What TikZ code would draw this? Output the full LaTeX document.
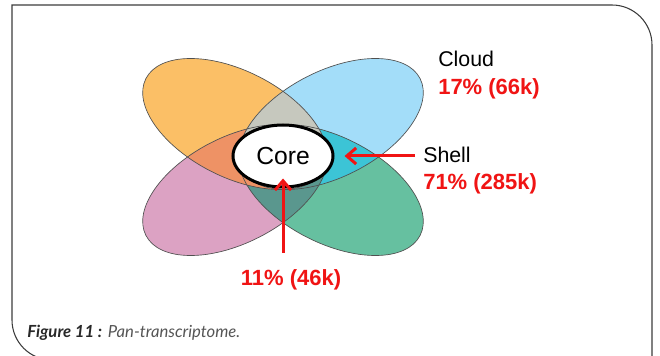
\documentclass[tikz,border=0pt]{standalone}
\usepackage{fontspec}
\setmainfont{Liberation Sans}
\newfontfamily\captionfont{Lato}
\usetikzlibrary{shapes.geometric, arrows.meta}

\definecolor{petalorange}{RGB}{251,191,102}
\definecolor{petalblue}{RGB}{163,221,249}
\definecolor{petalpink}{RGB}{220,162,195}
\definecolor{petalgreen}{RGB}{102,192,160}
\definecolor{lapgray}{RGB}{198,200,190}
\definecolor{lapsalmon}{RGB}{238,146,101}
\definecolor{lapcyan}{RGB}{60,196,214}
\definecolor{lapteal}{RGB}{90,151,142}
\definecolor{pctred}{RGB}{240,20,20}
\definecolor{capdark}{RGB}{40,40,40}
\definecolor{capgray}{RGB}{85,85,85}

% petals of the diagram
\newcommand{\orangepetal}{(235,124) ellipse [x radius=100, y radius=53, rotate=27]}
\newcommand{\bluepetal}{(331,124) ellipse [x radius=100, y radius=53, rotate=-27]}
\newcommand{\pinkpetal}{(235,190) ellipse [x radius=100, y radius=53, rotate=-27]}
\newcommand{\greenpetal}{(331,190) ellipse [x radius=100, y radius=53, rotate=27]}

\tikzset{
  petaledge/.style={draw={rgb,255:red,80;green,80;blue,80}, line width=0.5pt},
  lbltext/.style={inner sep=0pt, font=\fontsize{16}{18}\selectfont},
  pcttext/.style={inner sep=0pt, text=pctred, font=\fontsize{16.5}{18}\selectfont\bfseries},
  coreshape/.style={ellipse, draw=black, fill=white, line width=2.25pt, inner sep=0pt,
    minimum width=75pt, minimum height=46.5pt, font=\fontsize{18.5}{20}\selectfont},
  redarrow/.style={draw=pctred, line width=2.25pt, -{Straight Barb[length=7pt,width=12pt]}},
  framestroke/.style={draw={rgb,255:red,60;green,60;blue,60}, line width=0.8pt}
}

\begin{document}
\begin{tikzpicture}[x=0.75pt,y=0.75pt,yscale=-1,xscale=1]
    \useasboundingbox (0,0) rectangle (660,356);

    %Shape: Frame
    \draw[framestroke] (652,360) -- (652,45) arc[start angle=0, end angle=-90, radius=40] -- (12,5) -- (12,320) arc[start angle=180, end angle=90, radius=40] -- (60,360);

    %Shape: Petals
    \fill[petalorange] \orangepetal;
    \fill[petalblue] \bluepetal;
    \fill[petalpink] \pinkpetal;
    \fill[petalgreen] \greenpetal;
    % overlaps
    \begin{scope}
      \clip \greenpetal;
      \fill[lapcyan] \bluepetal;
      \fill[lapteal] \pinkpetal;
    \end{scope}
    \begin{scope}
      \clip \orangepetal;
      \fill[lapsalmon] \pinkpetal;
      \fill[lapgray] \bluepetal;
    \end{scope}
    \draw[petaledge] \orangepetal;
    \draw[petaledge] \bluepetal;
    \draw[petaledge] \pinkpetal;
    \draw[petaledge] \greenpetal;

    % Core Node
    \node[coreshape] (core) at (283,156) {Core};

    % Text Node
    \node[lbltext, anchor=base west] (cloud) at (438,67) {Cloud};
    % Text Node
    \node[pcttext, anchor=base west] (cloudval) at (438,95) {17\% (66k)};
    % Text Node
    \node[lbltext, anchor=base west] (shell) at (423,163) {Shell};
    % Text Node
    \node[pcttext, anchor=base west] (shellval) at (423,190) {71\% (285k)};
    % Text Node
    \node[pcttext, anchor=base] (coreval) at (291,285) {11\% (46k)};

    % Connection
    \draw[redarrow, shorten <=6pt, shorten >=7.5pt] (shell.west |- core.east) -- (core.east);
    % Connection
    \draw[redarrow, shorten <=12pt, shorten >=-7.5pt] (coreval.north -| core.south) -- (core.south);

    % Caption
    \node[anchor=base west, inner sep=0pt, font=\captionfont\fontsize{12.5}{14}\selectfont] (caption) at (27,337)
      {\textcolor{capdark}{\bfseries\itshape Figure 11 :} \textcolor{capgray}{\itshape Pan-transcriptome.}};

\end{tikzpicture}
\end{document}
